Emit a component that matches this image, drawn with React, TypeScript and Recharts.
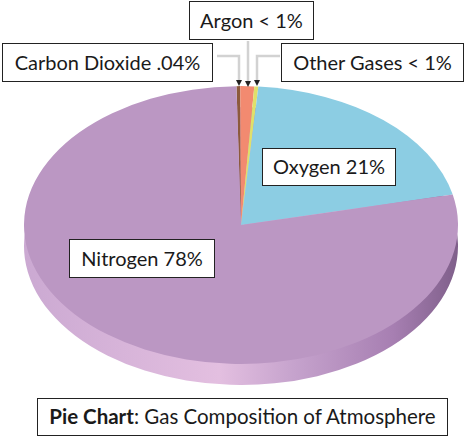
import React from 'react';
import { PieChart, Pie, Cell } from 'recharts';

const gasNames = ['Carbon Dioxide', 'Argon', 'Other Gases', 'Oxygen', 'Nitrogen'];
const gasValues = [0.28, 1.03, 0.3, 20.2, 78.19];
const gasColors = ['#8c5a3c', '#f28a70', '#dfe06a', '#8ccde3', '#bb97c3'];

const data = gasNames.map((name, i) => ({ name, value: gasValues[i] }));

const FONT = 'Lato, "Open Sans", sans-serif';
const MARGIN = { top: 0, right: 0, bottom: 0, left: 0 };

const boxStyle = (left: number, top: number, width: number, height: number): React.CSSProperties => ({
    position: 'absolute',
    left,
    top,
    width,
    height,
    boxSizing: 'border-box',
    border: '1.5px solid #222',
    background: '#fff',
    color: '#1a1a1a',
    fontFamily: FONT,
    fontSize: 20,
    lineHeight: `${height - 3}px`,
    textAlign: 'center',
    whiteSpace: 'nowrap',
});

const Leader = ({ points }: { points: string }) => (
    <polyline points={points} fill="none" stroke="#d2d2d2" strokeWidth={2.5} markerEnd="url(#tip)" />
);

const App = () => {
    return (
        <div style={{ position: 'absolute', left: 0, top: 0, width: 474, height: 437, overflow: 'hidden', background: '#fff' }}>
            <div style={{ position: 'absolute', left: 0, top: 0, transform: 'scaleY(0.64)', transformOrigin: '0 225px' }}>
                <PieChart width={474} height={490} margin={MARGIN}>
                    <defs>
                        <linearGradient id="rim" x1="0" y1="0" x2="1" y2="0">
                            <stop offset="0%" stopColor="#cba9d2" />
                            <stop offset="45%" stopColor="#e3bfe0" />
                            <stop offset="62%" stopColor="#c6a3cd" />
                            <stop offset="85%" stopColor="#a77fb2" />
                            <stop offset="100%" stopColor="#7f5f8a" />
                        </linearGradient>
                    </defs>
                    <Pie
                        data={data}
                        dataKey="value"
                        cx={241}
                        cy={258}
                        outerRadius={217}
                        startAngle={91.2}
                        endAngle={-268.8}
                        stroke="none"
                        fill="url(#rim)"
                        isAnimationActive={false}
                        legendType="none"
                    >
                        {data.map((d) => (
                            <Cell key={d.name} fill="url(#rim)" />
                        ))}
                    </Pie>
                    <Pie
                        data={data}
                        dataKey="value"
                        cx={241}
                        cy={225}
                        outerRadius={217}
                        startAngle={91.2}
                        endAngle={-268.8}
                        stroke="none"
                        isAnimationActive={false}
                    >
                        {data.map((d, i) => (
                            <Cell key={d.name} fill={gasColors[i]} />
                        ))}
                    </Pie>
                </PieChart>
            </div>

            <svg width={474} height={437} style={{ position: 'absolute', left: 0, top: 0 }}>
                <defs>
                    <marker id="tip" markerWidth="6" markerHeight="6" refX="0" refY="3" orient="auto" markerUnits="userSpaceOnUse" viewBox="0 0 6 6">
                        <path d="M0 0 L6 3 L0 6 Z" fill="#222" />
                    </marker>
                </defs>
                <Leader points="217,56 239,56 239,80" />
                <Leader points="248,41 248,81" />
                <Leader points="280,56 257,56 257,80" />
            </svg>

            <div style={boxStyle(189, 1, 125, 39)}>Argon &lt; 1%</div>
            <div style={boxStyle(2, 43, 211, 39)}>Carbon Dioxide .04%</div>
            <div style={boxStyle(281, 43, 183, 39)}>Other Gases &lt; 1%</div>
            <div style={boxStyle(262, 148, 134, 38)}>Oxygen 21%</div>
            <div style={boxStyle(69, 239, 146, 39)}>Nitrogen 78%</div>
            <div style={{ ...boxStyle(37, 398, 411, 38), fontSize: 20.5 }}>
                <b>Pie Chart</b>: Gas Composition of Atmosphere
            </div>
        </div>
    );
};

export default App;
